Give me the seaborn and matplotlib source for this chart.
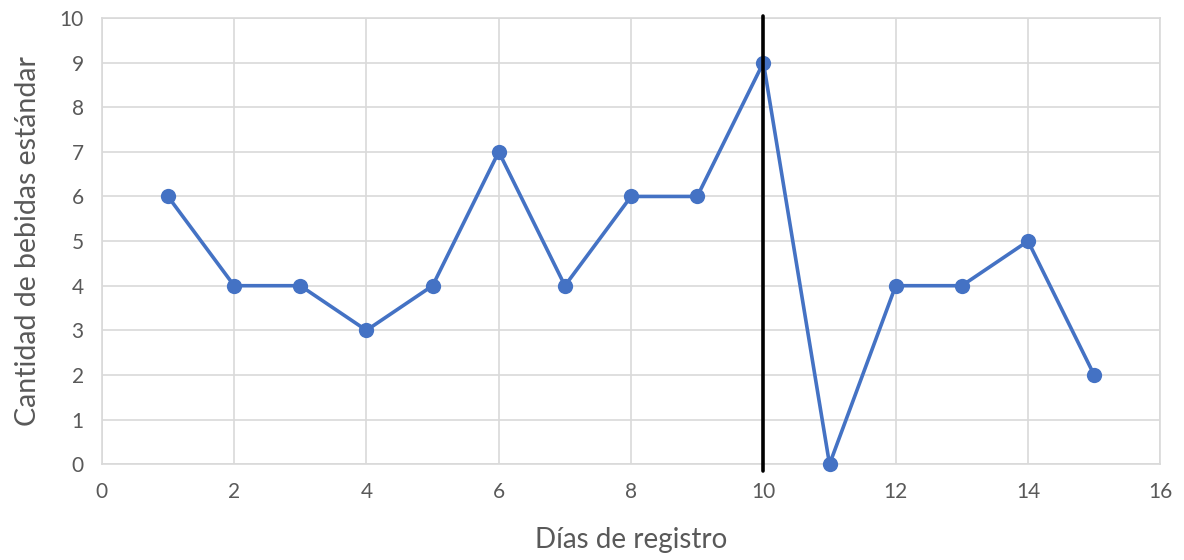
import matplotlib
matplotlib.use("Agg")
import matplotlib.pyplot as plt
import seaborn as sns
import pandas as pd

dias = [1, 2, 3, 4, 5, 6, 7, 8, 9, 10, 11, 12, 13, 14, 15]
bebidas = [6, 4, 4, 3, 4, 7, 4, 6, 6, 9, 0, 4, 4, 5, 2]
x_ticks = [0, 2, 4, 6, 8, 10, 12, 14, 16]
y_ticks = [0, 1, 2, 3, 4, 5, 6, 7, 8, 9, 10]
linea_x = 10

sns.set_theme(style="whitegrid")
plt.rcParams['font.family'] = ['Lato', 'DejaVu Sans']

df = pd.DataFrame({"dia": dias, "bebidas": bebidas})

fig = plt.figure(figsize=(11.84, 5.6), dpi=100)
ax = fig.add_axes([0.086, 0.171, 0.894, 0.797])

sns.lineplot(data=df, x="dia", y="bebidas", ax=ax, color="#4472C4",
             linewidth=2.6, marker="o", markersize=11, markeredgewidth=0,
             zorder=3, clip_on=False)
ax.plot([linea_x, linea_x], [-0.15, 10.05], color="black", linewidth=2.6,
        clip_on=False, zorder=4)

ax.set_xlim(0, 16)
ax.set_ylim(0, 10)
ax.set_xticks(x_ticks)
ax.set_yticks(y_ticks)
ax.grid(True, color="#D9D9D9", linewidth=1.2)
for s in ax.spines.values():
    s.set_visible(True)
    s.set_color("#D9D9D9")
    s.set_linewidth(1.2)
ax.tick_params(axis="both", labelsize=15, labelcolor="#595959", length=0, pad=13)
ax.set_xlabel("Días de registro", fontsize=20, color="#595959", labelpad=18)
ax.set_ylabel("Cantidad de bebidas estándar", fontsize=20.5, color="#595959", labelpad=13)

fig.savefig("out.png", dpi=100, facecolor="white")
